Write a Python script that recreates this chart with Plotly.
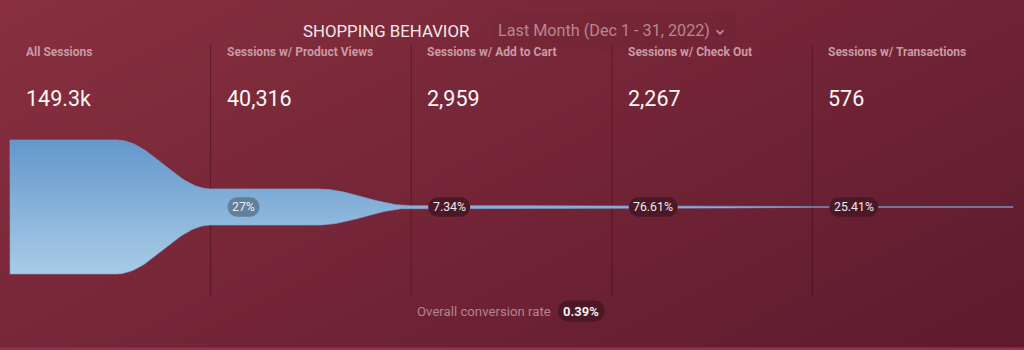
import base64
import numpy as np
import plotly.graph_objects as go

# ---------------- data ----------------
stages = ["All Sessions", "Sessions w/ Product Views", "Sessions w/ Add to Cart",
          "Sessions w/ Check Out", "Sessions w/ Transactions"]
sessions = [149300, 40316, 2959, 2267, 576]
title_text = "SHOPPING BEHAVIOR"
period_text = "Last Month (Dec 1 - 31, 2022)"
overall_text = "Overall conversion rate"

# ---------------- layout constants ----------------
W, H = 1024, 350
FUN_LEFT_PX, FUN_RIGHT_PX = 10, 1013
CENTER_PX = 207          # funnel center (pixels from top)
MAX_HEIGHT_PX = 134      # pixel height of the largest stage
n = len(stages)
px_per_x = (FUN_RIGHT_PX - FUN_LEFT_PX) / n
units_per_px_y = max(sessions) / MAX_HEIGHT_PX
x_range = [-FUN_LEFT_PX / px_per_x, (W - FUN_LEFT_PX) / px_per_x]
y_range = [-(H - CENTER_PX) * units_per_px_y, CENTER_PX * units_per_px_y]


def py(p):  # pixel-from-top -> paper fraction
    return 1 - p / H


def fmt_value(v):
    return f"{v/1000:.1f}k" if v >= 100000 else f"{v:,}"


def fmt_pct(p):
    s = f"{p:.2f}".rstrip("0").rstrip(".")
    return s + "%"


# ---------------- funnel outline ----------------
FLAT = 0.53
xs, half = [], []
for i, v in enumerate(sessions):
    h = v / 2
    if i < n - 1:
        h2 = sessions[i + 1] / 2
        xs += [i, i + FLAT]
        half += [h, h]
        t = np.linspace(0, 1, 41)[1:]
        e = (1 - np.cos(np.pi * t)) / 2
        xs += list(i + FLAT + (1 - FLAT) * t)
        half += list(h + (h2 - h) * e)
    else:
        xs += [i, i + 1]
        half += [h, h]
xs = np.array(xs)
half = np.array(half)
poly_x = np.concatenate([[xs[0]], xs, xs[::-1]])
poly_y = np.concatenate([[-half[0]], half, -half[::-1]])

fig = go.Figure()
fig.add_trace(go.Scatter(
    x=poly_x, y=poly_y, mode="lines", fill="toself",
    line=dict(color="rgba(125,165,212,0.85)", width=0.7),
    fillgradient=dict(type="vertical",
                      colorscale=[[0, "#a8cce6"], [1, "#6497cc"]]),
    hoverinfo="skip", showlegend=False))

# ---------------- background ----------------
svg = ('<svg xmlns="http://www.w3.org/2000/svg" width="1024" height="350" '
       'preserveAspectRatio="none" viewBox="0 0 1024 350">'
       '<defs><linearGradient id="g" x1="0" y1="0" x2="1.154" y2="0.769">'
       '<stop offset="0" stop-color="#88303f"/>'
       '<stop offset="1" stop-color="#5e1a2e"/></linearGradient></defs>'
       '<rect width="1024" height="350" fill="url(#g)"/></svg>')
bg_src = "data:image/svg+xml;base64," + base64.b64encode(svg.encode()).decode()

shapes = []
annotations = []

# bottom highlight line
shapes.append(dict(type="rect", xref="paper", yref="paper", x0=0, x1=1,
                   y0=0, y1=py(347.5), line_width=0, fillcolor="#95324d",
                   layer="below"))
# subtle box behind the period selector
shapes.append(dict(type="rect", xref="paper", yref="paper",
                   x0=491 / W, x1=736 / W, y0=py(50), y1=py(13),
                   line_width=0, fillcolor="rgba(0,0,0,0.025)", layer="below"))

# dividers
for i in range(1, n):
    shapes.append(dict(type="line", xref="x", yref="paper", x0=i, x1=i,
                       y0=py(296), y1=py(45),
                       line=dict(color="rgba(40,0,15,0.35)", width=1),
                       layer="below"))

TEXT_OFF = 14 / px_per_x
for i, (name, v) in enumerate(zip(stages, sessions)):
    annotations.append(dict(x=i + TEXT_OFF, y=py(52), xref="x", yref="paper",
                            text=name, showarrow=False, xanchor="left",
                            yanchor="middle",
                            font=dict(family="Roboto", size=12, weight="bold",
                                      color="#c99aa5")))
    annotations.append(dict(x=i + TEXT_OFF, y=py(98), xref="x", yref="paper",
                            text=fmt_value(v), showarrow=False, xanchor="left",
                            yanchor="middle",
                            font=dict(family="Roboto", size=21.5,
                                      color="#fbf6f7")))

CHAR_W = {c: 0.562 for c in "0123456789"}
CHAR_W.update({".": 0.263, "%": 0.733})


def text_w(s, size):
    return sum(CHAR_W.get(c, 0.55) for c in s) * size


def pill_path(w, h):
    r = h / 2
    a = w / 2 - r
    k = 0.5523 * r
    return (f"M {-a},{-r} H {a} "
            f"C {a+k},{-r} {a+r},{-k} {a+r},0 "
            f"C {a+r},{k} {a+k},{r} {a},{r} "
            f"H {-a} "
            f"C {-a-k},{r} {-a-r},{k} {-a-r},0 "
            f"C {-a-r},{-k} {-a-k},{-r} {-a},{-r} Z")


# step conversion pills
for i in range(1, n):
    label = fmt_pct(sessions[i] / sessions[i - 1] * 100)
    w = text_w(label, 12.3) + 9
    hgt = 19.5
    cx = i + (17 + w / 2) / px_per_x
    color = "#62809c" if sessions[i] / 2 / units_per_px_y > 10 else "#4c1727"
    shapes.append(dict(type="path", xref="x", yref="y", xsizemode="pixel",
                       ysizemode="pixel", xanchor=cx, yanchor=0,
                       path=pill_path(w, hgt), fillcolor=color, line_width=0))
    annotations.append(dict(x=cx, y=0, xref="x", yref="y", text=label,
                            showarrow=False, xanchor="center", yanchor="middle",
                            font=dict(family="Roboto", size=12.3,
                                      color="#eceaea")))

# title
annotations.append(dict(x=301 / W, y=py(31), xref="paper", yref="paper",
                        text=title_text, showarrow=False, xanchor="left",
                        yanchor="middle",
                        font=dict(family="Roboto", size=16.8, color="#f3e9eb")))
annotations.append(dict(x=496 / W, y=py(31), xref="paper", yref="paper",
                        text=period_text, showarrow=False, xanchor="left",
                        yanchor="middle",
                        font=dict(family="Roboto", size=16.2, color="#b98690")))
shapes.append(dict(type="path", xref="paper", yref="paper", xsizemode="pixel",
                   ysizemode="pixel", xanchor=720 / W, yanchor=py(32),
                   path="M -3.5,1.8 L 0,-1.8 L 3.5,1.8",
                   line=dict(color="#c3949e", width=1.6)))

# overall conversion
overall = fmt_pct(round(sessions[-1] / sessions[0] * 100, 2))
annotations.append(dict(x=553 / W, y=py(311), xref="paper", yref="paper",
                        text=overall_text, showarrow=False, xanchor="right",
                        yanchor="middle",
                        font=dict(family="Roboto", size=13.2, color="#b3858f")))
ow = text_w(overall, 13) + 12
ocx = (558 + ow / 2) / W
shapes.append(dict(type="path", xref="paper", yref="paper", xsizemode="pixel",
                   ysizemode="pixel", xanchor=ocx, yanchor=py(311),
                   path=pill_path(ow, 21), fillcolor="#4c1727", line_width=0))
annotations.append(dict(x=ocx, y=py(311), xref="paper", yref="paper",
                        text=overall, showarrow=False, xanchor="center",
                        yanchor="middle",
                        font=dict(family="Roboto", size=13, weight="bold",
                                  color="#f2eeef")))

fig.update_layout(
    width=W, height=H, margin=dict(l=0, r=0, t=0, b=0),
    paper_bgcolor="#732538", plot_bgcolor="rgba(0,0,0,0)",
    xaxis=dict(range=x_range, visible=False, fixedrange=True),
    yaxis=dict(range=y_range, visible=False, fixedrange=True),
    images=[dict(source=bg_src, xref="paper", yref="paper", x=0, y=1,
                 sizex=1, sizey=1, xanchor="left", yanchor="top",
                 sizing="stretch", layer="below")],
    shapes=shapes, annotations=annotations, showlegend=False,
)
fig.write_html("out.html", config={"displayModeBar": False})
